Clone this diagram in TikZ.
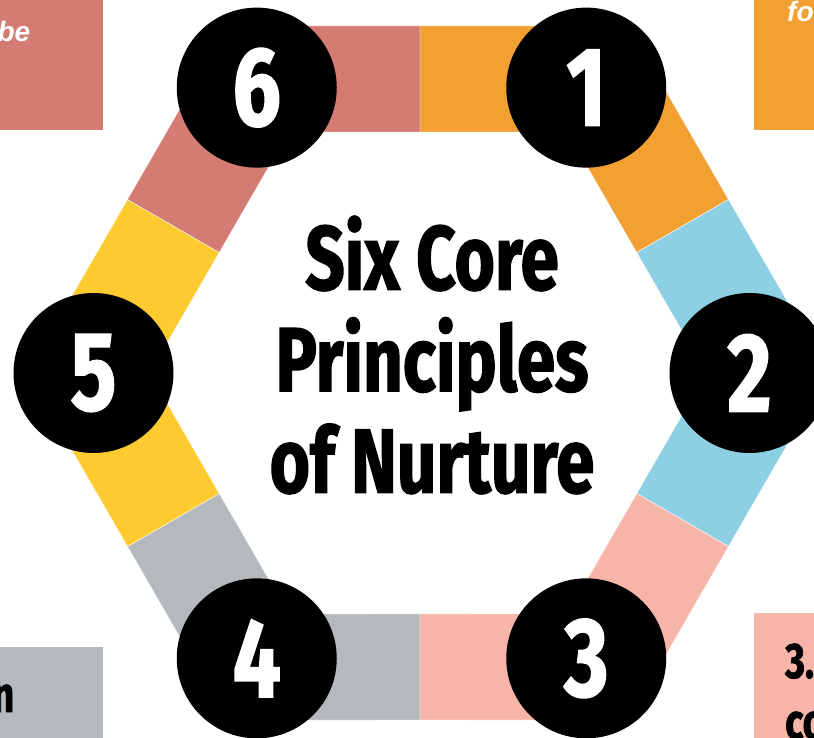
\documentclass[tikz,border=0pt]{standalone}
\usepackage{fontspec}
\usepackage{tikz}
\usetikzlibrary{calc}
\newfontfamily\condfont[FakeStretch=0.76,FakeBold=1.4]{Fira Sans}
\newfontfamily\boxfont{Liberation Sans}
\definecolor{pOne}{HTML}{F3A033}
\definecolor{pTwo}{HTML}{8DD0E3}
\definecolor{pThree}{HTML}{F6B5A8}
\definecolor{pFour}{HTML}{B3B9BC}
\definecolor{pFive}{HTML}{FDCB2F}
\definecolor{pSix}{HTML}{D47B73}
% angle, colour, shift of the first and of the last split
\newcommand\ringpart[4]{%
  \filldraw[fill=#2,draw=white,line width=0.4pt]
    ($(#1-30:347)+(#3,0)$) -- (#1:400.7) -- ($(#1+30:347)+(#4,0)$)
    -- ($(#1+30:241)+(#4,0)$) -- (#1:278.3) -- ($(#1-30:241)+(#3,0)$) -- cycle;}

\begin{document}
\begin{tikzpicture}[x=1pt,y=1pt,
    num/.style={circle,fill=black,text=white,minimum size=160pt,inner sep=0pt,
      font=\condfont\bfseries\fontsize{112}{112}\selectfont},
    boxtext/.style={inner sep=0pt,font=\boxfont\bfseries\itshape\fontsize{28}{32}\selectfont,text=white},
    boxcond/.style={inner sep=0pt,font=\condfont\bfseries\fontsize{50}{55}\selectfont}]
    \useasboundingbox (0,0) rectangle (814,738);

    % the four boxes at the corners
    \fill[pSix] (-10,608) rectangle (103,748);
    \fill[pOne] (754,608) rectangle (824,748);
    \fill[pFour] (-10,-10) rectangle (103,91);
    \fill[pThree] (754,-10) rectangle (824,125);
    \node[boxtext,anchor=base east] (tl) at (30.5,696.5) {be};
    \node[boxtext,anchor=base west] (tr) at (787,716) {fo};
    \node[boxcond,anchor=base east] (bl) at (14.5,26) {n};
    \node[boxcond,anchor=base west] (br) at (785,60) {3.};
    \node[boxcond,anchor=base west] (br2) at (785,-1) {co};

    % the ring
    \begin{scope}[shift={(428,365)}]
    \ringpart{60}{pOne}{0}{-8}
    \ringpart{0}{pTwo}{0}{0}
    \ringpart{-60}{pThree}{-8}{0}
    \ringpart{-120}{pFour}{0}{-8}
    \ringpart{180}{pFive}{0}{0}
    \ringpart{120}{pSix}{-8}{0}
    \end{scope}

    \begin{scope}[shift={(421.5,365)}]
    \path
    (60:329.5) node[num] (p1) {1}
    (0:328) node[num] (p2) {2}
    (-60:329.5) node[num] (p3) {3}
    (-120:329.5) node[num] (p4) {4}
    (180:328) node[num] (p5) {5}
    (120:329.5) node[num] (p6) {6}
    ;
    \end{scope}

    \node[align=center,inner sep=0pt,
      font=\condfont\bfseries\fontsize{91}{101.5}\selectfont]
      (title) at (432,383) {Six Core\\Principles\\of Nurture};
\end{tikzpicture}
\end{document}
